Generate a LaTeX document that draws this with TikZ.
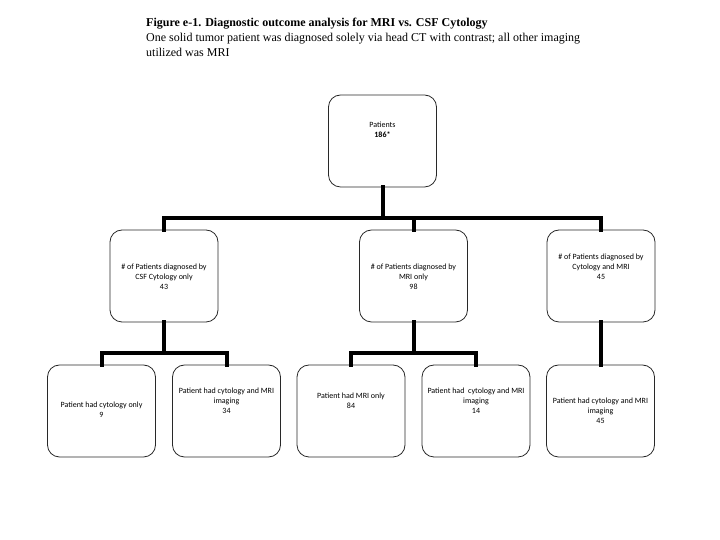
\documentclass[tikz,border=0pt]{standalone}
\usepackage{fontspec}
\setmainfont{Liberation Serif}
\newfontfamily\boxfont{Carlito}
\usepackage{tikz}
\usetikzlibrary{calc}
\definecolor{figline}{RGB}{40,40,40}
\definecolor{figbar}{RGB}{0,0,0}
\tikzset{
  box/.style    ={draw=figline, line width=0.8pt, rounded corners=12pt, minimum width=108pt,
                  minimum height=92pt, inner sep=0pt},
  txt/.style    ={font=\boxfont\fontsize{8}{10}\selectfont, align=center, inner sep=0pt},
  conn/.style   ={draw=figbar, line width=4pt, line cap=rect, line join=miter},
  figcap/.style ={font=\fontsize{12}{15}\selectfont, align=left, inner sep=0pt, anchor=north west},
}

\begin{document}
\begin{tikzpicture}[x=1pt,y=1pt]
  \useasboundingbox (0,0) rectangle (720,540);
  % caption
  \node[figcap] (title) at (146,522.5)
    {\textbf{Figure e-1. Diagnostic outcome analysis for MRI vs. CSF Cytology}\\
     One solid tumor patient was diagnosed solely via head CT with contrast; all other imaging\\
     utilized was MRI};
  % boxes
  \node[box] (pat)  at (382.5,399) {};
  \node[box] (csf)  at (164,264)   {};
  \node[box] (mri)  at (413.5,264) {};
  \node[box] (both) at (601,264)   {};
  \node[box] (cyo)  at (101.5,129) {};
  \node[box] (cym)  at (226.5,129) {};
  \node[box] (mro)  at (351,129)   {};
  \node[box] (mrc)  at (476,129)   {};
  \node[box] (bth)  at (600.5,129) {};
  % texts
  \node[txt] (tpat)  at ($(pat.center)+(0,11)$)  {Patients\\\textbf{186*}};
  \node[txt] (tcsf)  at ($(csf.center)+(0,-1)$)  {\# of Patients diagnosed by\\CSF Cytology only\\43};
  \node[txt] (tmri)  at ($(mri.center)+(0,-1)$)  {\# of Patients diagnosed by\\MRI only\\98};
  \node[txt] (tboth) at ($(both.center)+(0,9)$)  {\# of Patients diagnosed by\\Cytology and MRI\\45};
  \node[txt] (tcyo)  at ($(cyo.center)+(0,1)$)   {Patient had cytology only\\9};
  \node[txt] (tcym)  at ($(cym.center)+(0,10)$)  {Patient had cytology and MRI\\imaging\\34};
  \node[txt] (tmro)  at ($(mro.center)+(0,10)$)  {Patient had MRI only\\84};
  \node[txt] (tmrc)  at ($(mrc.center)+(0,10)$)  {Patient had\ \ cytology and MRI\\imaging\\14};
  \node[txt] (tbth)  at ($(bth.center)+(0,0)$)   {Patient had cytology and MRI\\imaging\\45};
  % connectors
  \draw[conn] (pat.south) -- ++(0,-31) -| (csf.north);
  \draw[conn] (pat.south) -- ++(0,-31) -| (mri.north);
  \draw[conn] (pat.south) -- ++(0,-31) -| (both.north);
  \draw[conn] (csf.south) -- ++(0,-31) -| (cyo.north);
  \draw[conn] (csf.south) -- ++(0,-31) -| (cym.north);
  \draw[conn] (mri.south) -- ++(0,-31) -| (mro.north);
  \draw[conn] (mri.south) -- ++(0,-31) -| (mrc.north);
  \draw[conn] (both.south) -- (both.south |- bth.north);
\end{tikzpicture}
\end{document}
